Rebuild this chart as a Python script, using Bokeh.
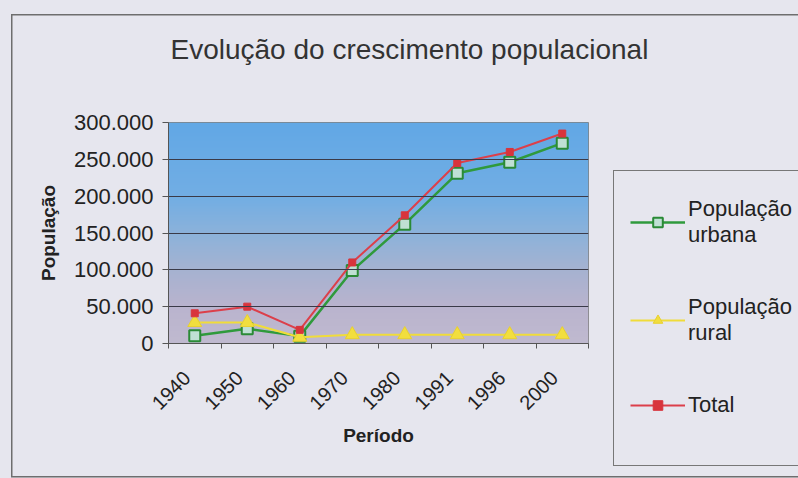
import numpy as np
from bokeh.plotting import figure
from bokeh.layouts import row, column
from bokeh.models import (FixedTicker, CustomJSTickFormatter, Legend, LegendItem,
                          Range1d, Title)
from bokeh.embed import file_html
from bokeh.resources import INLINE

# ---- data ----
periods = ["1940", "1950", "1960", "1970", "1980", "1991", "1996", "2000"]
urbana = [10500, 20000, 10000, 99000, 162000, 231000, 246000, 272000]
rural = [28500, 28500, 8500, 12000, 12000, 12000, 12000, 12000]
total = [41000, 50000, 18500, 110000, 174000, 245000, 260000, 285000]
y_ticks = [0, 50000, 100000, 150000, 200000, 250000, 300000]

title_txt = "Evolução do crescimento populacional"
x_title = "Período"
y_title = "População"
labels = ["População\nurbana", "População\nrural", "Total"]

FONT = "Liberation Sans"
BG = "#e6e6ee"
FRAME = "#6e6e6e"
C_URB, C_URB_M, C_URB_F = "#2f9a3c", "#2a8a36", "#bfe0d4"
C_RUR, C_RUR_M = "#f0dc3a", "#f2de3e"
C_TOT, C_TOT_M = "#dc3f4a", "#d8343c"

xs = np.arange(len(periods)) + 0.5


def bare(fig):
    fig.grid.visible = False
    fig.outline_line_color = None
    fig.background_fill_alpha = 0
    fig.border_fill_alpha = 0


# ---- title strip ----
tfig = figure(width=798, height=100, output_backend="svg", toolbar_location=None,
              x_range=Range1d(0, 1), y_range=Range1d(0, 1),
              x_axis_location=None, y_axis_location=None,
              min_border_left=0, min_border_right=0, min_border_top=69,
              min_border_bottom=0, title=None)
bare(tfig)
tfig.add_layout(Title(text=title_txt, text_font=FONT, text_font_size="28px",
                      text_font_style="normal", text_color="#333333",
                      align="left", offset=170, standoff=10), "above")

# ---- main chart ----
p = figure(width=613, height=378, output_backend="svg", toolbar_location=None,
           x_range=Range1d(0, len(periods)), y_range=Range1d(0, 300000),
           min_border_left=168, min_border_right=25, min_border_top=22,
           min_border_bottom=135, title=None)
p.background_fill_color = BG
p.border_fill_alpha = 0
p.outline_line_color = "#808080"
p.outline_line_width = 1

# gradient background of the plot area
stops_v = [0, 50000, 100000, 150000, 200000, 300000]
stops_c = np.array([[192, 186, 208], [186, 180, 206], [166, 178, 209],
                    [140, 178, 219], [114, 174, 228], [98, 168, 230]], dtype=float)
N = 300
vals = np.linspace(0, 300000, N)
img = np.zeros((N, 1), dtype=np.uint32)
view = img.view(dtype=np.uint8).reshape((N, 1, 4))
for k in range(3):
    view[:, 0, k] = np.interp(vals, stops_v, stops_c[:, k]).astype(np.uint8)
view[:, 0, 3] = 255
p.image_rgba(image=[img], x=0, y=0, dw=len(periods), dh=300000, level="image")

p.xgrid.visible = False
p.ygrid.ticker = FixedTicker(ticks=y_ticks)
p.ygrid.grid_line_color = "#3a3a48"
p.ygrid.grid_line_width = 1
p.ygrid.level = "glyph"


def draw_series(fig):
    a = fig.line(xs, urbana, line_color=C_URB, line_width=2.5)
    b = fig.scatter(xs, urbana, marker="square", size=11, fill_color=C_URB_F,
                    line_color=C_URB_M, line_width=2)
    c = fig.line(xs, rural, line_color=C_RUR, line_width=2)
    d = fig.scatter(xs, rural, marker="triangle", size=14, fill_color=C_RUR_M,
                    line_color="#e8d030", line_width=1)
    e = fig.line(xs, total, line_color=C_TOT, line_width=2)
    f = fig.scatter(xs, total, marker="square", size=7, fill_color=C_TOT_M,
                    line_color=C_TOT_M)
    return [a, b], [c, d], [e, f]


draw_series(p)

# axes
xa = p.xaxis[0]
xa.ticker = FixedTicker(ticks=list(xs - 0.15),
                        minor_ticks=list(range(len(periods) + 1)))
xa.formatter = CustomJSTickFormatter(args=dict(labels=periods),
                                     code="return labels[Math.floor(tick)]")
xa.major_tick_out = 0
xa.major_tick_in = 0
xa.minor_tick_out = 5
xa.minor_tick_in = 0
xa.minor_tick_line_color = "#555555"
xa.axis_line_color = "#555555"
xa.major_label_orientation = np.pi / 4
xa.major_label_text_font = FONT
xa.major_label_text_font_size = "20px"
xa.major_label_text_color = "#222222"
xa.major_label_standoff = 26
xa.axis_label = x_title
xa.axis_label_text_font = FONT
xa.axis_label_text_font_size = "19px"
xa.axis_label_text_font_style = "bold"
xa.axis_label_text_color = "#222222"
xa.axis_label_standoff = 6

ya = p.yaxis[0]
ya.ticker = FixedTicker(ticks=y_ticks)
ya.formatter = CustomJSTickFormatter(
    code="return tick.toFixed(0).replace(/\\B(?=(\\d{3})+(?!\\d))/g, '.')")
ya.major_tick_out = 6
ya.major_tick_in = 0
ya.minor_tick_out = 0
ya.minor_tick_in = 0
ya.axis_line_color = "#555555"
ya.major_tick_line_color = "#555555"
ya.major_label_text_font = FONT
ya.major_label_text_font_size = "22px"
ya.major_label_text_color = "#222222"
ya.major_label_standoff = 9
ya.axis_label = y_title
ya.axis_label_text_font = FONT
ya.axis_label_text_font_size = "19px"
ya.axis_label_text_font_style = "bold"
ya.axis_label_text_color = "#222222"
ya.axis_label_standoff = 12

# ---- legend panel (right of the chart) ----
leg = figure(width=185, height=378, output_backend="svg", toolbar_location=None,
             x_range=Range1d(-100, -99), y_range=Range1d(-100, -99),
             x_axis_location=None, y_axis_location=None,
             min_border_left=0, min_border_top=22, min_border_right=0,
             min_border_bottom=135, title=None)
bare(leg)
box_line = "linear-gradient(#777777,#777777)"
leg.styles = {
    "background-image": ", ".join([box_line] * 3),
    "background-repeat": "no-repeat",
    "background-position": "0px 70px, 0px 70px, 0px 365px",
    "background-size": "1px 296px, 100% 1px, 100% 1px",
}
g_urb, g_rur, g_tot = draw_series(leg)   # out of view; used for legend glyphs
legend = Legend(items=[LegendItem(label=labels[0], renderers=g_urb),
                       LegendItem(label=labels[1], renderers=g_rur),
                       LegendItem(label=labels[2], renderers=g_tot)],
                location=(17, -75))
legend.background_fill_alpha = 0
legend.border_line_color = None
legend.label_text_font = FONT
legend.label_text_font_size = "22px"
legend.label_text_color = "#222222"
legend.glyph_width = 55
legend.glyph_height = 24
legend.label_standoff = 3
legend.label_height = 24
legend.label_width = 100
legend.spacing = 46
legend.padding = 0
legend.margin = 0
leg.add_layout(legend, "left")

layout = column(tfig, row(p, leg))
line_img = f"linear-gradient({FRAME},{FRAME})"
layout.styles = {
    "background-color": BG,
    "background-image": ", ".join([line_img] * 3),
    "background-repeat": "no-repeat",
    "background-position": "11px 14px, 11px 14px, 11px 476px",
    "background-size": "1.5px 463px, 100% 1.5px, 100% 1.5px",
}

html = file_html(layout, INLINE)
html = html.replace("<head>", "<head><style>html,body{background:#e6e6ee;overflow:hidden;}</style>", 1)
open("out.html", "w").write(html)
